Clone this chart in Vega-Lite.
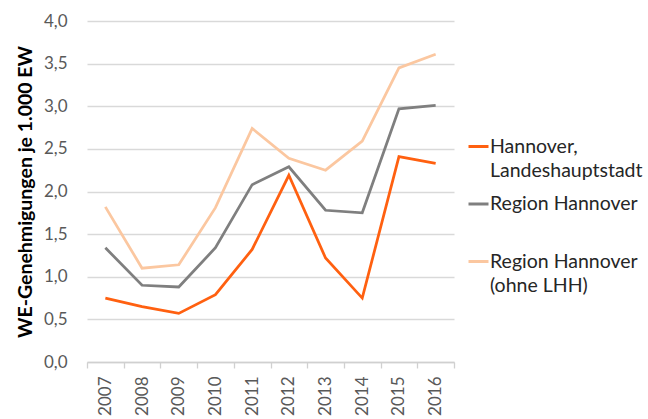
{
  "$schema": "https://vega.github.io/schema/vega-lite/v6.json",
  "autosize": {"type": "none"},
  "padding": {"left": 87, "top": 21, "right": 194, "bottom": 57},
  "width": 367,
  "height": 341,
  "background": "white",
  "config": {
    "view": {"stroke": null},
    "font": "Lato"
  },
  "data": {
    "values": [
      {"Jahr": "2007", "Gebiet": "Hannover, Landeshauptstadt", "Wert": 0.75},
      {"Jahr": "2008", "Gebiet": "Hannover, Landeshauptstadt", "Wert": 0.65},
      {"Jahr": "2009", "Gebiet": "Hannover, Landeshauptstadt", "Wert": 0.57},
      {"Jahr": "2010", "Gebiet": "Hannover, Landeshauptstadt", "Wert": 0.79},
      {"Jahr": "2011", "Gebiet": "Hannover, Landeshauptstadt", "Wert": 1.32},
      {"Jahr": "2012", "Gebiet": "Hannover, Landeshauptstadt", "Wert": 2.19},
      {"Jahr": "2013", "Gebiet": "Hannover, Landeshauptstadt", "Wert": 1.22},
      {"Jahr": "2014", "Gebiet": "Hannover, Landeshauptstadt", "Wert": 0.75},
      {"Jahr": "2015", "Gebiet": "Hannover, Landeshauptstadt", "Wert": 2.41},
      {"Jahr": "2016", "Gebiet": "Hannover, Landeshauptstadt", "Wert": 2.33},
      {"Jahr": "2007", "Gebiet": "Region Hannover", "Wert": 1.34},
      {"Jahr": "2008", "Gebiet": "Region Hannover", "Wert": 0.90},
      {"Jahr": "2009", "Gebiet": "Region Hannover", "Wert": 0.88},
      {"Jahr": "2010", "Gebiet": "Region Hannover", "Wert": 1.34},
      {"Jahr": "2011", "Gebiet": "Region Hannover", "Wert": 2.08},
      {"Jahr": "2012", "Gebiet": "Region Hannover", "Wert": 2.29},
      {"Jahr": "2013", "Gebiet": "Region Hannover", "Wert": 1.78},
      {"Jahr": "2014", "Gebiet": "Region Hannover", "Wert": 1.75},
      {"Jahr": "2015", "Gebiet": "Region Hannover", "Wert": 2.97},
      {"Jahr": "2016", "Gebiet": "Region Hannover", "Wert": 3.01},
      {"Jahr": "2007", "Gebiet": "Region Hannover (ohne LHH)", "Wert": 1.82},
      {"Jahr": "2008", "Gebiet": "Region Hannover (ohne LHH)", "Wert": 1.10},
      {"Jahr": "2009", "Gebiet": "Region Hannover (ohne LHH)", "Wert": 1.14},
      {"Jahr": "2010", "Gebiet": "Region Hannover (ohne LHH)", "Wert": 1.81},
      {"Jahr": "2011", "Gebiet": "Region Hannover (ohne LHH)", "Wert": 2.74},
      {"Jahr": "2012", "Gebiet": "Region Hannover (ohne LHH)", "Wert": 2.39},
      {"Jahr": "2013", "Gebiet": "Region Hannover (ohne LHH)", "Wert": 2.25},
      {"Jahr": "2014", "Gebiet": "Region Hannover (ohne LHH)", "Wert": 2.59},
      {"Jahr": "2015", "Gebiet": "Region Hannover (ohne LHH)", "Wert": 3.45},
      {"Jahr": "2016", "Gebiet": "Region Hannover (ohne LHH)", "Wert": 3.61}
    ]
  },
  "mark": {"type": "line", "strokeWidth": 2.75, "strokeJoin": "miter"},
  "encoding": {
    "x": {
      "field": "Jahr",
      "type": "ordinal",
      "bandPosition": 0.5,
      "scale": {"type": "band", "paddingInner": 0, "paddingOuter": 0},
      "axis": {
        "title": null,
        "labelAngle": -90,
        "labelAlign": "right",
        "labelBaseline": "middle",
        "labelFontSize": 17,
        "labelColor": "#595959",
        "labelPadding": 8,
        "domainColor": "#D0D0D0",
        "domainWidth": 1.3,
        "tickColor": "#D0D0D0",
        "tickWidth": 1.3,
        "tickSize": 6,
        "tickBand": "extent",
        "grid": false
      }
    },
    "y": {
      "field": "Wert",
      "type": "quantitative",
      "scale": {"domain": [0, 4], "nice": false, "zero": true},
      "axis": {
        "title": "WE-Genehmigungen je 1.000 EW",
        "titleFontSize": 19.5,
        "titleFontWeight": "bold",
        "titleColor": "#000000",
        "titlePadding": 8,
        "values": [0, 0.5, 1, 1.5, 2, 2.5, 3, 3.5, 4],
        "labelExpr": "replace(format(datum.value, '.1f'), '.', ',')",
        "labelFontSize": 17,
        "labelColor": "#595959",
        "labelPadding": 20,
        "domain": false,
        "ticks": false,
        "grid": true,
        "gridColor": "#D9D9D9",
        "gridWidth": 1.3
      }
    },
    "color": {
      "field": "Gebiet",
      "type": "nominal",
      "scale": {
        "domain": ["Hannover, Landeshauptstadt", "Region Hannover", "Region Hannover (ohne LHH)"],
        "range": ["#FF6010", "#7F7F7F", "#FBC7A0"]
      },
      "legend": {
        "title": null,
        "orient": "none",
        "legendX": 380,
        "legendY": 114,
        "padding": 0,
        "symbolType": "stroke",
        "symbolSize": 400,
        "symbolStrokeWidth": 3,
        "labelFontSize": 19.5,
        "labelColor": "#262626",
        "labelOffset": 0,
        "labelLimit": 300,
        "labelBaseline": "middle",
        "labelExpr": "datum.label == 'Hannover, Landeshauptstadt' ? ['Hannover,', 'Landeshauptstadt'] : datum.label == 'Region Hannover' ? ['Region Hannover', ' '] : ['Region Hannover', '(ohne LHH)']",
        "rowPadding": 12.5,
        "encode": {"labels": {"update": {"lineHeight": {"value": 24}}}}
      }
    }
  }
}
